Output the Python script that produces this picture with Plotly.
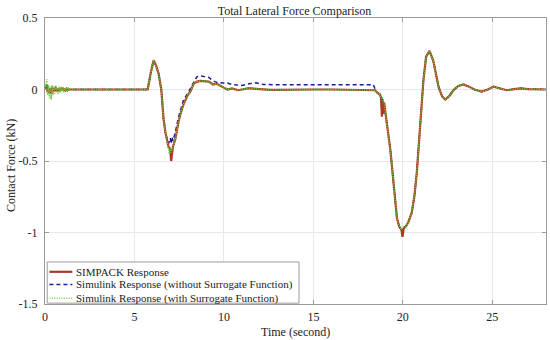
import plotly.graph_objects as go

# ---- data ----
time_s = [
    0.00, 0.05, 0.10, 0.15, 0.20, 0.25, 0.30, 0.35, 0.40, 0.45,
    0.50, 0.55, 0.60, 0.65, 0.70, 0.75, 0.80, 0.85, 0.90, 0.95,
    1.00, 1.05, 1.10, 1.15, 1.20, 1.25, 1.30, 1.35, 1.40, 1.45, 1.50,
    2.0, 3.0, 4.0, 5.0, 5.5, 5.74,
    5.9, 6.07, 6.2, 6.35, 6.5, 6.62, 6.73, 6.82, 6.9, 6.95, 7.0, 7.05, 7.1, 7.15,
    7.28, 7.47, 7.62, 7.75, 7.97, 8.12, 8.31, 8.5, 8.68, 8.9, 9.15, 9.4, 9.6, 9.97,
    10.2, 10.45, 10.8, 11.0, 11.4, 11.8, 12.2, 12.6, 13.0, 14.0, 15.0, 16.0, 17.0, 18.0,
    18.36, 18.45, 18.55, 18.65, 18.72, 18.78, 18.83, 18.87, 18.9, 18.95,
    19.1, 19.3, 19.5, 19.67, 19.8, 19.92, 19.98, 20.05, 20.15, 20.3, 20.5, 20.65, 20.78,
    20.97, 21.15, 21.3, 21.49, 21.7, 21.85, 22.0, 22.2, 22.37, 22.6, 22.83, 23.1, 23.39,
    23.7, 24.0, 24.4, 24.75, 25.07, 25.4, 25.8, 26.2, 26.6, 27.0, 27.5, 28.0,
]

simpack = [
    0, 0.02, 0.03, -0.02, 0.01, -0.03, 0.01, -0.03, 0.015, -0.02,
    0.01, -0.015, 0.015, -0.01, 0.005, -0.015, 0.01, -0.01, 0.01, -0.005,
    0.01, -0.01, 0.005, -0.005, 0.005, -0.005, 0.005, 0, 0, 0, 0,
    0, 0, 0, 0, 0, 0,
    0.11, 0.205, 0.17, 0.11, 0.0, -0.2, -0.30, -0.36, -0.40, -0.41, -0.42, -0.50, -0.43, -0.40,
    -0.35, -0.22, -0.15, -0.10, -0.04, -0.015, 0.04, 0.055, 0.06, 0.06, 0.055, 0.035, 0.04, 0.015,
    0.0, 0.008, -0.005, 0.0, 0.01, 0.005, 0.0, -0.003, -0.003, 0, 0, 0, 0, 0,
    0, -0.005, -0.02, -0.03, -0.035, -0.06, -0.19, -0.07, -0.17, -0.09,
    -0.24, -0.42, -0.68, -0.90, -0.96, -0.98, -1.03, -0.97, -0.96, -0.93, -0.86, -0.74, -0.58,
    -0.24, 0.066, 0.23, 0.27, 0.20, 0.10, 0.016, -0.05, -0.07, -0.045, -0.004, 0.025, 0.035,
    0.02, 0.0, -0.015, 0.0, 0.02, 0.01, -0.005, 0.002, 0.008, 0.003, 0.0, 0.0,
]

simulink_no_sf = [
    0, 0.01, 0.02, -0.01, 0.01, -0.02, 0.01, -0.02, 0.01, -0.01,
    0.005, -0.01, 0.01, -0.005, 0, -0.01, 0.005, -0.005, 0.005, 0,
    0.005, -0.005, 0, 0, 0, 0, 0, 0, 0, 0, 0,
    0, 0, 0, 0, 0, 0,
    0.11, 0.205, 0.17, 0.11, 0.0, -0.2, -0.30, -0.35, -0.38, -0.36, -0.34, -0.38, -0.33, -0.36,
    -0.30, -0.19, -0.13, -0.07, -0.03, 0.01, 0.05, 0.09, 0.095, 0.09, 0.085, 0.06, 0.05, 0.045,
    0.045, 0.035, 0.03, 0.028, 0.04, 0.047, 0.035, 0.033, 0.033, 0.033, 0.033, 0.033, 0.033, 0.033,
    0.033, 0.0, -0.02, -0.03, -0.035, -0.05, -0.06, -0.07, -0.08, -0.09,
    -0.24, -0.42, -0.68, -0.90, -0.96, -0.98, -0.97, -0.96, -0.96, -0.93, -0.86, -0.74, -0.58,
    -0.24, 0.066, 0.23, 0.27, 0.20, 0.10, 0.016, -0.05, -0.07, -0.045, -0.004, 0.025, 0.035,
    0.02, 0.0, -0.015, 0.0, 0.02, 0.01, -0.005, 0.002, 0.008, 0.003, 0.0, 0.0,
]

simulink_sf = [
    0, 0.05, 0.07, -0.04, 0.03, -0.06, 0.02, -0.07, 0.03, -0.04,
    0.02, -0.03, 0.03, -0.02, 0.01, -0.03, 0.02, -0.02, 0.02, -0.01,
    0.02, -0.02, 0.01, -0.01, 0.015, -0.01, 0.01, -0.005, 0.005, 0, 0,
    0, 0, 0, 0, 0, 0,
    0.11, 0.205, 0.17, 0.11, 0.0, -0.2, -0.30, -0.37, -0.42, -0.45, -0.40, -0.44, -0.41, -0.40,
    -0.35, -0.22, -0.15, -0.10, -0.04, -0.015, 0.04, 0.055, 0.06, 0.06, 0.055, 0.035, 0.04, 0.015,
    0.0, 0.008, -0.005, 0.0, 0.01, 0.005, 0.0, -0.003, -0.003, 0, 0, 0, 0, 0,
    0, -0.005, -0.02, -0.03, -0.035, -0.05, -0.06, -0.07, -0.08, -0.09,
    -0.24, -0.42, -0.68, -0.90, -0.96, -0.98, -0.97, -0.96, -0.96, -0.93, -0.86, -0.74, -0.58,
    -0.24, 0.066, 0.23, 0.27, 0.20, 0.10, 0.016, -0.05, -0.07, -0.045, -0.004, 0.025, 0.035,
    0.02, 0.0, -0.015, 0.0, 0.02, 0.01, -0.005, 0.002, 0.008, 0.003, 0.0, 0.0,
]

series_names = [
    "SIMPACK Response",
    "Simulink Response (without Surrogate Function)",
    "Simulink Response (with Surrogate Function)",
]

x_ticks = [0, 5, 10, 15, 20, 25]
x_tick_labels = ["0", "5", "10", "15", "20", "25"]
y_ticks = [0.5, 0, -0.5, -1, -1.5]
y_tick_labels = ["0.5", "0", "-0.5", "-1", "-1.5"]

FONT = "Liberation Serif, Times New Roman, serif"
TXT = "#222222"
RED = "#a63a22"
BLUE = "#1c1c9c"
GREEN = "#6fc83a"

fig = go.Figure()
# blue drawn first (beneath), then red, then green dotted on top
fig.add_trace(go.Scatter(
    x=time_s, y=simulink_no_sf, mode="lines", name=series_names[1],
    line=dict(color=BLUE, width=1.5, dash="4px,3px"), showlegend=False,
))
fig.add_trace(go.Scatter(
    x=time_s, y=simpack, mode="lines", name=series_names[0],
    line=dict(color=RED, width=2.2), showlegend=False,
))
fig.add_trace(go.Scatter(
    x=time_s, y=simulink_sf, mode="lines", name=series_names[2],
    line=dict(color=GREEN, width=1.5, dash="1.2px,1.2px"), showlegend=False,
))

axis_common = dict(
    showgrid=True, gridcolor="#e8e8e8", gridwidth=1,
    showline=True, linecolor="#9a9a9a", linewidth=1, mirror="ticks",
    ticks="inside", ticklen=4, tickcolor="#9a9a9a",
    zeroline=False, automargin=False,
    tickfont=dict(family=FONT, size=12, color=TXT),
)

# --- manual MATLAB-style legend (paper coords of the plot area) ---
shapes = [dict(type="rect", xref="paper", yref="paper",
               x0=0.0044, x1=0.507, y0=0.003, y1=0.147,
               line=dict(color="#9a9a9a", width=1), fillcolor="white", layer="above")]
legend_y = [0.1126, 0.0682, 0.0203]
legend_styles = [
    dict(color=RED, width=2.2),
    dict(color=BLUE, width=1.5, dash="4px,3px"),
    dict(color="#8fd86a", width=1.5, dash="1.2px,1.2px"),
]
annotations = []
for name, ly, st in zip(series_names, legend_y, legend_styles):
    shapes.append(dict(type="line", xref="paper", yref="paper",
                       x0=0.0088, x1=0.0546, y0=ly, y1=ly, line=st, layer="above"))
    annotations.append(dict(text=name, xref="paper", yref="paper", x=0.0586, y=ly,
                            xanchor="left", yanchor="middle", showarrow=False,
                            font=dict(family=FONT, size=11, color=TXT)))

# axis titles
annotations.append(dict(text="Time (second)", xref="paper", yref="paper",
                        x=0.5, y=-28 / 286, xanchor="center", yanchor="middle",
                        showarrow=False, font=dict(family=FONT, size=12, color=TXT)))
annotations.append(dict(text="Contact Force (kN)", xref="paper", yref="paper",
                        x=-34 / 501.4, y=(304 - 166) / 286, xanchor="center", yanchor="middle",
                        textangle=-90, showarrow=False,
                        font=dict(family=FONT, size=12, color=TXT)))

fig.update_layout(
    width=550, height=340,
    margin=dict(l=45, r=4, t=18, b=36),
    paper_bgcolor="white", plot_bgcolor="white",
    font=dict(family=FONT, size=12, color=TXT),
    title=dict(text="Total Lateral Force Comparison", x=294.5 / 550, xanchor="center",
               y=1 - 11 / 340, yanchor="middle", yref="container",
               font=dict(family=FONT, size=12, color=TXT)),
    xaxis=dict(range=[0, 28], tickvals=x_ticks, ticktext=x_tick_labels,
               ticklabelstandoff=2, **axis_common),
    yaxis=dict(range=[-1.5, 0.5], tickvals=y_ticks, ticktext=y_tick_labels,
               ticklabelstandoff=4, **axis_common),
    shapes=shapes,
    annotations=annotations,
    showlegend=False,
)

fig.write_html("out.html", config={"displayModeBar": False},
               post_script="document.body.style.margin='0';")
